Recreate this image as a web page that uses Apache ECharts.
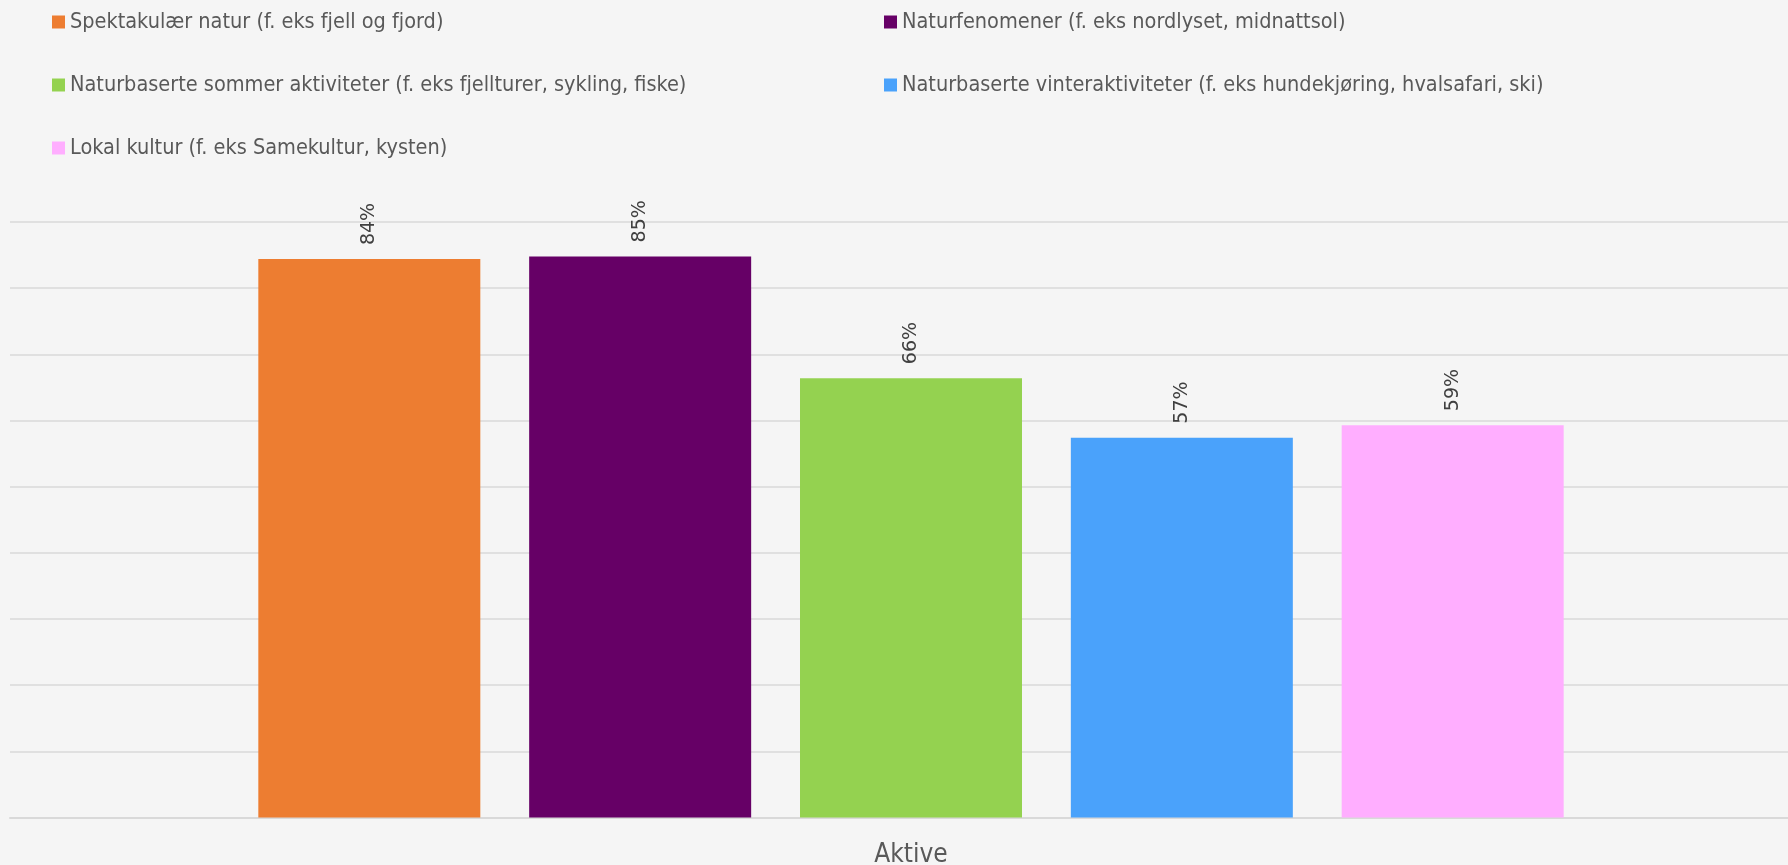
<!DOCTYPE html>
<html>
<head>
<meta charset="utf-8">
<script src="https://cdn.jsdelivr.net/npm/echarts@6/dist/echarts.min.js"></script>
<style>
html,body{margin:0;padding:0;background:#f5f5f5;}
#main{width:1788px;height:865px;}
</style>
</head>
<body>
<div id="main"></div>
<script>
const categories = ['Aktive'];
const seriesNames = [
  'Spektakulær natur (f. eks fjell og fjord)',
  'Naturfenomener (f. eks nordlyset, midnattsol)',
  'Naturbaserte sommer aktiviteter (f. eks fjellturer, sykling, fiske)',
  'Naturbaserte vinteraktiviteter (f. eks hundekjøring, hvalsafari, ski)',
  'Lokal kultur (f. eks Samekultur, kysten)'
];
const values = [84.4, 84.8, 66.4, 57.4, 59.3];
const colors = ['#ed7d31', '#660066', '#94d250', '#4aa2fb', '#ffaeff'];
const yTicks = [0, 10, 20, 30, 40, 50, 60, 70, 80, 90];

const legendFont = "'Liberation Sans Narrow', 'DejaVu Sans Condensed', 'Liberation Sans', sans-serif";
const legendPos = [
  {left: 52, top: 11},
  {left: 884, top: 11},
  {left: 52, top: 74},
  {left: 884, top: 74},
  {left: 52, top: 137}
];

const chart = echarts.init(document.getElementById('main'), null, {renderer: 'canvas'});
chart.setOption({
  backgroundColor: '#f5f5f5',
  animation: false,
  legend: seriesNames.map((n, i) => ({
    data: [n],
    left: legendPos[i].left,
    top: legendPos[i].top,
    padding: 0,
    icon: 'rect',
    itemWidth: 13,
    itemHeight: 13,
    textStyle: {fontFamily: legendFont, fontSize: 21.5, color: '#595959'}
  })),
  grid: {left: 10, right: -24, top: 222, bottom: 47.5, containLabel: false, outerBoundsMode: 'none'},
  xAxis: {
    type: 'category',
    data: categories,
    axisLine: {show: true, lineStyle: {color: '#d9d9d9', width: 2}},
    axisTick: {show: false},
    axisLabel: {fontFamily: legendFont, fontSize: 26, color: '#595959', margin: 25}
  },
  yAxis: {
    type: 'value',
    min: yTicks[0],
    max: yTicks[yTicks.length - 1],
    interval: 10,
    axisLine: {show: false},
    axisTick: {show: false},
    axisLabel: {show: false},
    splitLine: {show: true, lineStyle: {color: '#d9d9d9', width: 1.5}}
  },
  series: seriesNames.map((n, i) => ({
    name: n,
    type: 'bar',
    data: [values[i]],
    barWidth: 222,
    barGap: '22%',
    itemStyle: {color: colors[i]},
    label: {
      show: true,
      position: 'top',
      rotate: 90,
      align: 'left',
      verticalAlign: 'middle',
      distance: 14,
      fontFamily: "'DejaVu Sans', sans-serif",
      fontSize: 19,
      color: '#404040',
      formatter: p => Math.round(p.value) + '%'
    }
  }))
});
</script>
</body>
</html>
